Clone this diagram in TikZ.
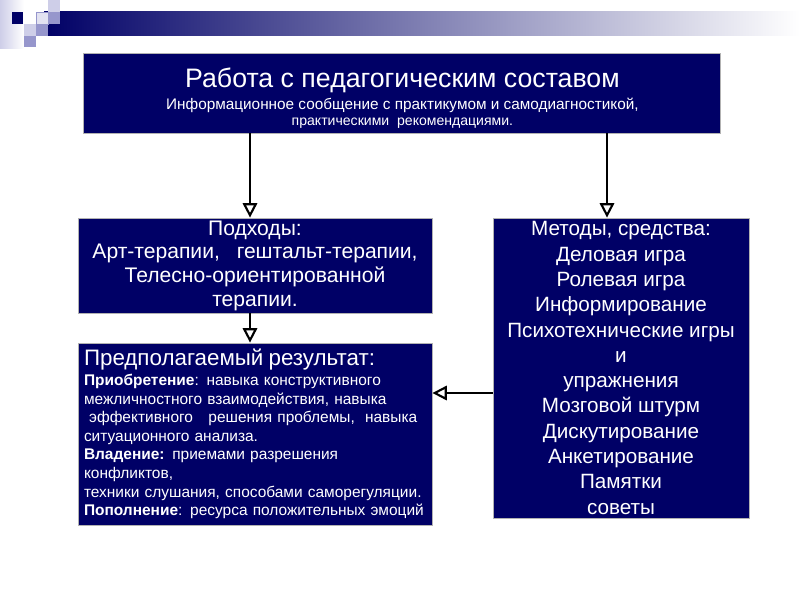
\documentclass[tikz,border=0pt]{standalone}
\usepackage{fontspec}
\setmainfont{Liberation Sans}
\usetikzlibrary{arrows.meta,positioning}
\definecolor{navy}{RGB}{0,0,102}
\definecolor{lavlight}{RGB}{206,206,232}
\definecolor{lavmid}{RGB}{150,150,204}

\begin{document}
\begin{tikzpicture}[>=Stealth,
  box/.style={draw=gray!60, line width=0.6pt, fill=navy, text=white, inner sep=0pt},
  arr/.style={-{Triangle[open,length=3.6mm,width=3.6mm]}, line width=1.5pt}]
\useasboundingbox (0,0) rectangle (20,-15);
% header band
\shade[left color=lavlight, right color=white] (0,0) rectangle (0.6,-1.2);
\shade[left color=navy, right color=white] (1.1,-0.275) rectangle (20,-0.875);
\fill[navy] (0.3,-0.3) rectangle (0.575,-0.6);
\fill[lavlight] (1.2,0) rectangle (1.5,-0.3);
\filldraw[fill=lavlight!60, draw=lavmid] (0.9,-0.3) rectangle (1.2,-0.6);
\fill[lavmid] (1.2,-0.3) rectangle (1.5,-0.6);
\fill[lavlight] (0.6,-0.6) rectangle (0.9,-0.9);
\fill[lavmid] (0.9,-0.6) rectangle (1.2,-0.9);
\fill[lavmid] (0.6,-0.9) rectangle (0.9,-1.175);
% boxes
\node[box, minimum width=15.925cm, minimum height=2cm, align=center] (work) at (10.06,-2.325)
  {\fontsize{19}{21}\selectfont\rule{0pt}{21.5pt}Работа с педагогическим составом\\[4pt]
   \fontsize{10.9}{11.3}\selectfont Информационное сообщение с практикумом и самодиагностикой,\\[-0.5pt] практическими\ \ рекомендациями.};
\node[box, minimum width=8.85cm, minimum height=2.375cm, align=center, font=\fontsize{15}{16.8}\selectfont] (approach) at (6.375,-6.6375)
  {Подходы:\\ Арт-терапии,\hspace{12pt}гештальт-терапии,\\ Телесно-ориентированной\\ терапии.};
\node[box, minimum width=6.4cm, minimum height=7.5cm, align=center, font=\fontsize{14.7}{18}\selectfont] (methods) at (15.525,-9.2)
  {Методы, средства:\\ Деловая игра\\ Ролевая игра\\ Информирование\\ Психотехнические игры\\ и\\ упражнения\\ Мозговой штурм\\ Дискутирование\\ Анкетирование\\ Памятки\\ советы};
\node[box, minimum width=8.85cm, minimum height=4.55cm, text width=8.55cm, align=left, font=\fontsize{11}{13.2}\selectfont] (result) at (6.375,-10.85)
  {{\fontsize{15.9}{17}\selectfont Предполагаемый результат:}\\[1pt]
   \textbf{Приобретение}: навыка конструктивного\\ межличностного взаимодействия, навыка\\
   \ эффективного\ \ \ решения проблемы,\ \ навыка\\ ситуационного анализа.\\
   \textbf{Владение:} приемами разрешения\\ конфликтов,\\ техники слушания, способами саморегуляции.\\
   \textbf{Пополнение}: ресурса положительных эмоций};
% connectors
\draw[arr] ([xshift=-0.125cm]approach.north |- work.south) -- ([xshift=-0.125cm]approach.north);
\draw[arr] ([xshift=-0.35cm]methods.north |- work.south) -- ([xshift=-0.35cm]methods.north);
\draw[arr] ([xshift=-0.125cm]approach.south) -- ([xshift=-0.125cm]result.north);
\draw[arr] (methods.west |- 0,-9.825) -- (result.east |- 0,-9.825);
\end{tikzpicture}
\end{document}
